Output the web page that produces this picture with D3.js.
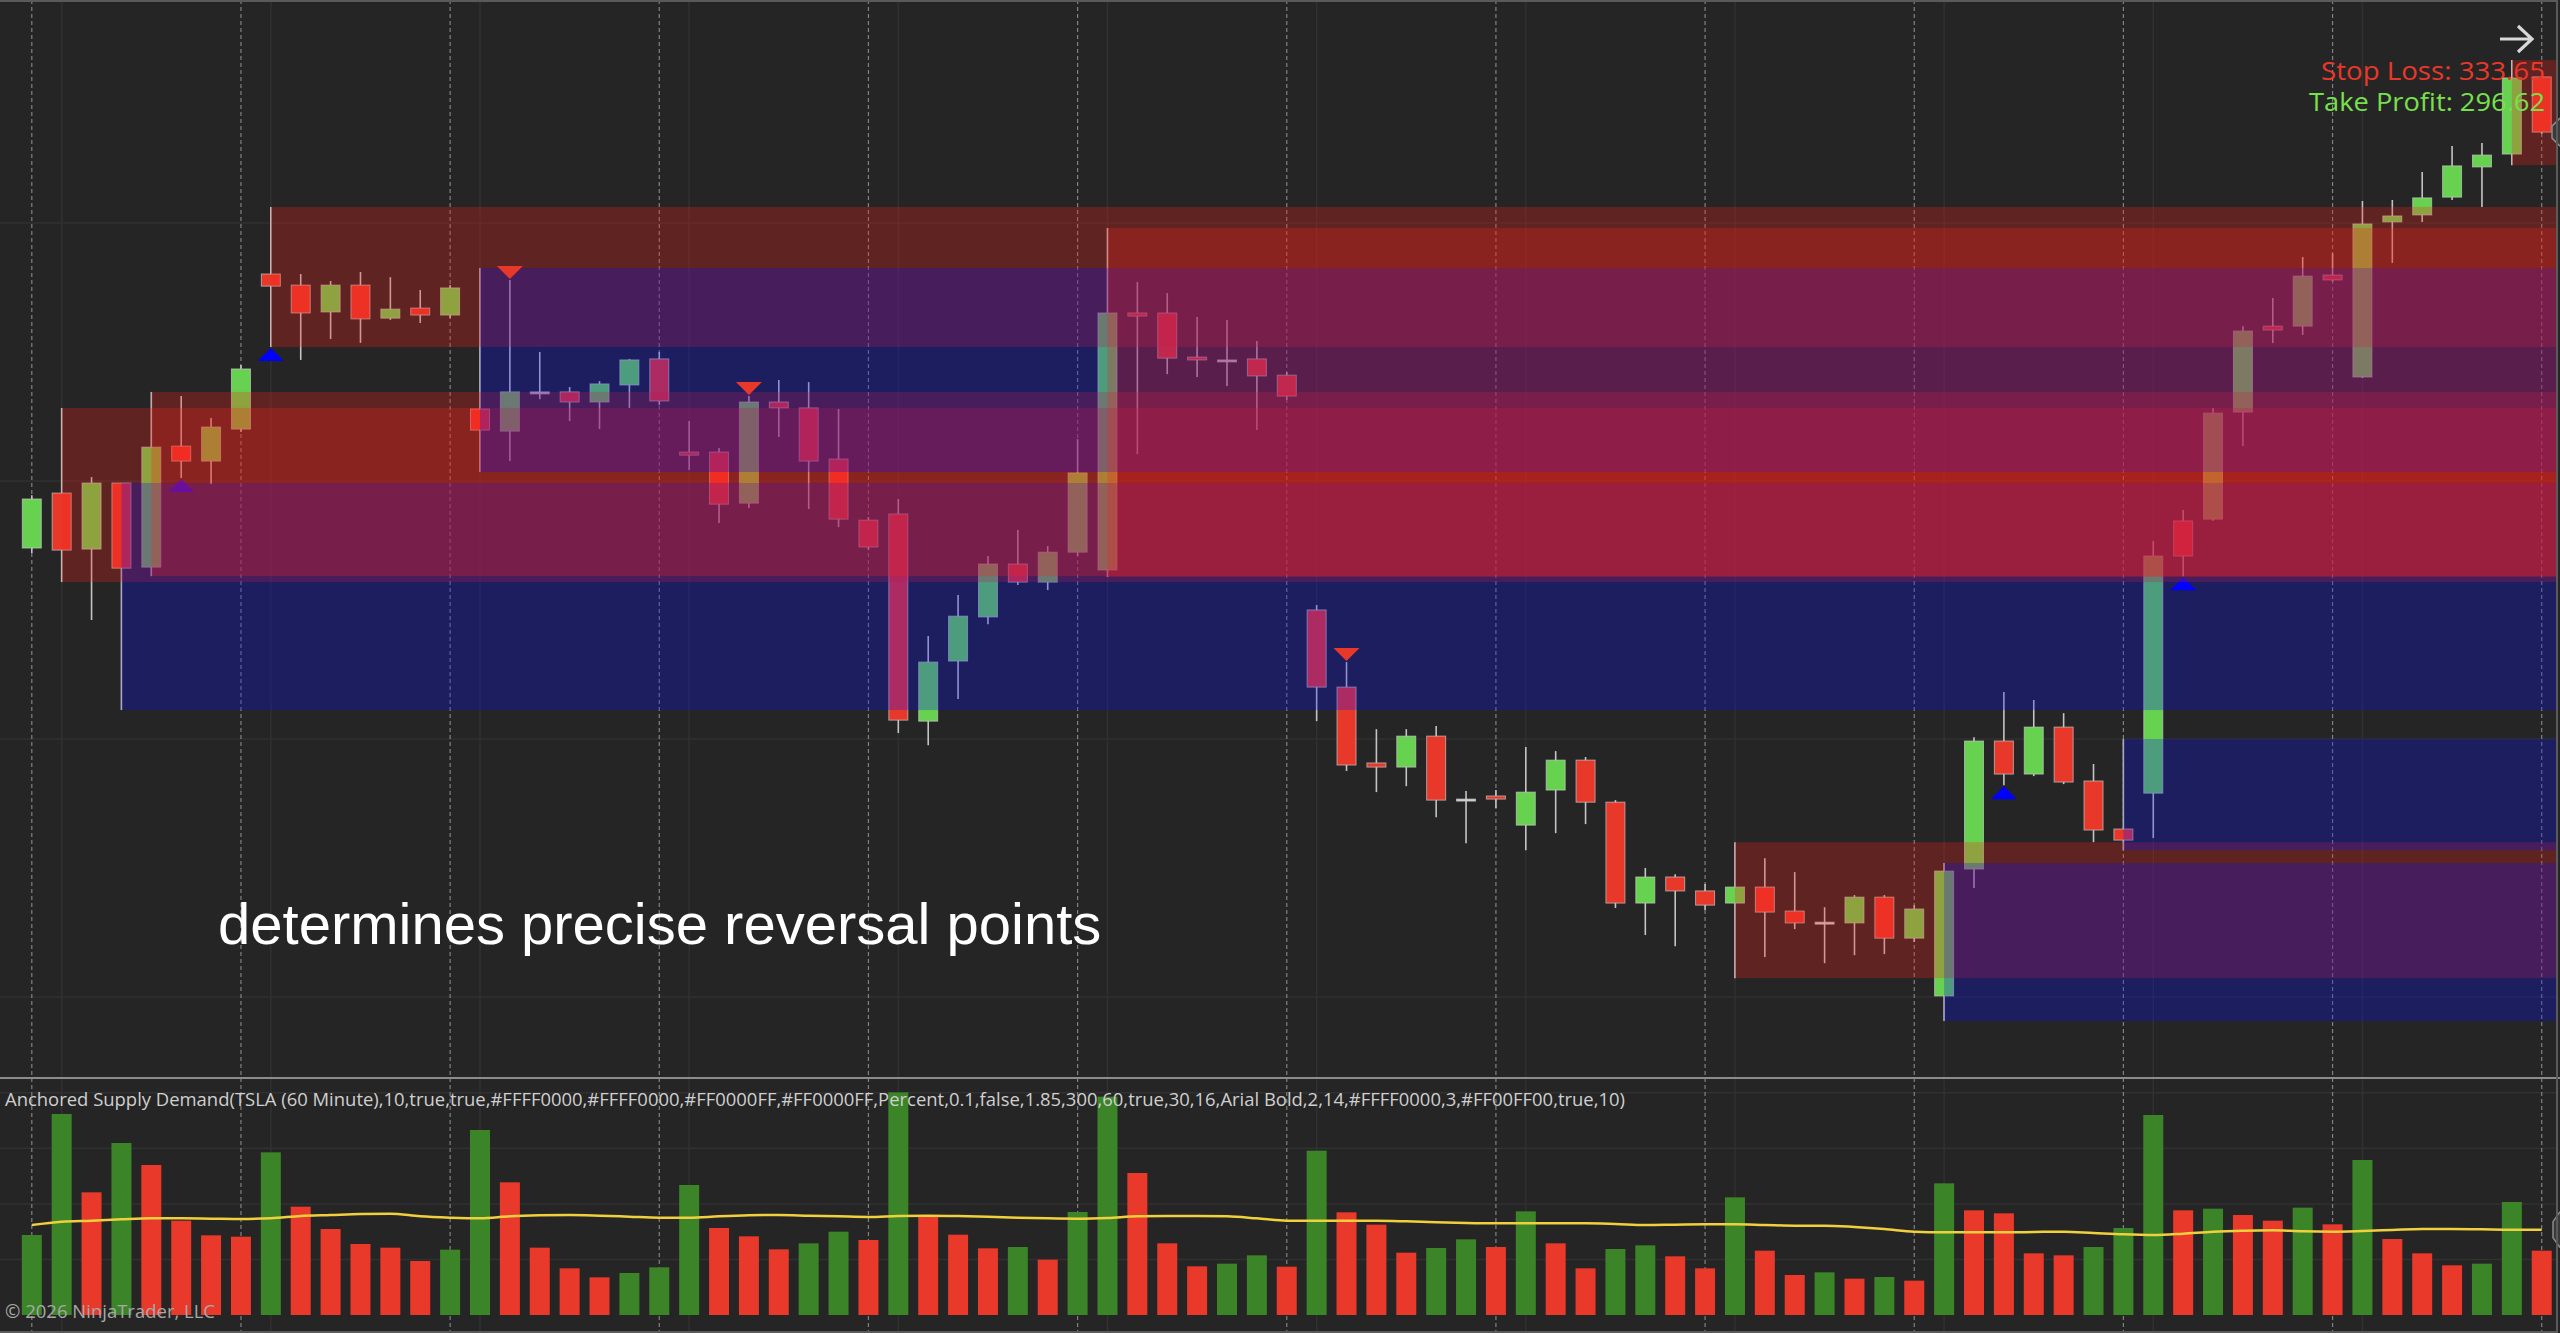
<!DOCTYPE html>
<html>
<head>
<meta charset="utf-8">
<script src="https://cdn.jsdelivr.net/npm/d3@7/dist/d3.min.js"></script>
<style>
  html, body { margin: 0; padding: 0; background: #252525; overflow: hidden; }
  svg { display: block; }
</style>
</head>
<body>
<div id="chart"></div>
<script>
var width = 2560;
var height = 1333;
var priceBottom = 1078;
var volBase = 1315;
var plotRight = 2556;

// TSLA 60 minute bars
var open = [317.40,319.53,317.36,319.92,316.66,321.35,320.77,322.01,328.02,327.59,
  326.55,327.59,326.31,326.70,326.43,322.79,321.93,323.45,323.45,323.06,
  323.72,324.73,321.12,321.12,319.14,323.06,322.83,320.85,318.48,318.72,
  310.69,313.02,314.73,316.78,316.08,317.24,316.55,326.51,326.51,324.80,
  324.69,324.73,324.10,315.00,312.01,309.07,308.91,310.11,307.67,307.79,
  306.66,308.02,309.18,307.55,303.64,304.65,304.11,303.64,304.26,303.33,
  302.90,302.87,303.87,302.28,300.04,304.96,309.92,308.64,310.46,308.37,
  306.51,307.90,318.45,318.52,322.67,326.00,326.00,327.98,324.03,330.04,
  330.31,331.00,332.17,332.67,335.66];
var high = [319.45,322.83,320.15,319.92,323.45,323.29,322.44,324.49,330.62,328.02,
  327.75,328.10,327.90,327.40,327.59,328.25,327.79,325.00,323.64,323.87,
  324.73,325.00,322.32,321.28,323.29,323.91,323.83,322.79,318.60,319.30,
  313.99,315.58,317.09,318.10,317.48,321.62,329.80,327.71,327.28,326.35,
  326.24,325.42,324.22,315.19,312.98,310.38,310.38,310.50,307.98,308.02,
  309.69,309.53,309.30,307.63,305.00,304.76,304.38,306.00,305.38,304.84,
  303.48,303.95,303.95,303.56,305.19,310.07,311.82,311.51,311.00,309.03,
  310.00,317.67,318.87,322.83,326.00,327.09,328.68,328.83,330.85,330.89,
  331.97,332.98,333.10,336.31,335.73];
var low = [317.21,316.08,314.61,311.12,316.31,320.11,319.88,321.90,325.19,324.69,
  325.50,325.35,326.24,326.12,326.31,320.35,320.77,323.17,322.32,322.01,
  322.83,322.94,320.42,318.37,318.95,321.70,318.91,318.21,317.32,310.23,
  309.76,311.55,314.45,315.97,315.77,317.09,316.28,321.04,324.14,324.03,
  323.68,321.97,323.14,310.69,308.76,307.94,308.17,306.97,305.96,307.32,
  305.69,306.35,306.70,303.45,302.40,301.97,303.37,300.73,301.55,302.63,
  301.31,301.62,301.66,302.13,299.07,304.22,308.21,308.56,308.25,306.00,
  305.69,306.16,316.31,318.45,321.35,325.35,325.66,327.71,323.99,328.45,
  330.04,330.89,330.62,332.24,333.45];
var close = [319.30,317.32,319.92,316.62,321.31,320.77,322.09,324.34,327.55,326.51,
  327.59,326.28,326.66,326.43,327.48,321.97,323.45,323.45,323.06,323.76,
  324.69,323.10,321.00,319.10,323.06,322.83,320.77,318.52,317.44,310.73,
  312.98,314.76,316.78,316.08,317.24,320.31,326.51,326.39,324.76,324.69,
  324.69,324.07,323.29,312.01,308.99,308.91,310.11,307.63,307.67,307.67,
  307.94,309.18,307.55,303.64,304.65,304.11,303.56,304.26,303.29,302.87,
  302.90,303.87,302.28,303.41,304.88,309.92,308.64,310.46,308.33,306.47,
  306.08,317.09,317.09,322.63,325.81,325.85,327.94,327.79,329.96,330.27,
  330.97,332.21,332.63,335.62,333.52];

// volume in thousands, 1 = up volume bar
var volume = [720,1809,1104,1548,1350,849,717,705,1464,975,
  774,639,606,486,588,1665,1194,606,420,339,
  378,429,1170,783,708,591,645,750,675,2004,
  888,723,600,612,498,927,1965,1278,645,438,
  462,537,435,1479,924,813,561,603,681,612,
  933,645,420,594,627,528,420,1059,579,360,
  384,327,342,309,1185,942,915,555,537,612,
  783,1800,942,957,900,849,966,816,1395,684,
  555,447,462,1017,579];
var volumeUp = [1,1,0,1,0,0,0,0,1,0,
  0,0,0,0,1,1,0,0,0,0,
  1,1,1,0,0,0,1,1,0,1,
  0,0,0,1,0,1,1,0,0,0,
  1,1,0,1,0,0,0,1,1,0,
  1,0,0,1,1,0,0,1,0,0,
  1,0,1,0,1,0,0,0,0,1,
  1,1,0,1,0,0,1,0,1,0,
  0,0,1,1,0];
var volumeAvg = [810,840,849,861,870,870,867,864,870,891,
  900,909,912,888,876,870,888,897,900,894,
  885,876,876,888,897,900,894,888,882,891,
  894,891,885,876,870,867,873,888,891,891,
  888,870,849,849,849,849,843,834,828,825,
  825,825,825,819,810,813,816,816,810,804,
  804,792,774,750,744,744,744,747,750,738,
  726,720,732,750,759,762,753,750,756,765,
  774,774,771,768,768];

// signals and anchored zones (bar index)
var buySignals = [5, 8, 66, 72];
var sellSignals = [16, 24, 44];
var zoneBars = [1, 3, 4, 8, 15, 36, 57, 64, 70, 83];
var zoneKinds = ['supply', 'demand', 'supply', 'supply', 'demand', 'supply', 'supply', 'demand', 'demand', 'supply'];

var priceTicks = [300, 310, 320, 330];
var volumeTicks = [500, 1000, 1500, 2000];
var stopLoss = 333.65;
var takeProfit = 296.62;

var upColor = '#67d24f';
var downColor = '#e8382a';

var svg = d3.select('#chart').append('svg')
  .attr('width', width).attr('height', height)
  .style('background', '#252525');

var bars = d3.range(open.length);

var x = d3.scaleLinear().domain([0, open.length - 1]).range([31.8, 31.8 + 29.88 * (open.length - 1)]);
var y = d3.scaleLinear().domain([296.86, 338.64]).range([priceBottom, 0]);
var vy = d3.scaleLinear().domain([0, 2100]).range([volBase, volBase - 2100 / 9]);

// grid
var grid = svg.append('g');
grid.selectAll('line.hp').data(priceTicks).enter().append('line')
  .attr('x1', 0).attr('x2', plotRight)
  .attr('y1', function(d){ return y(d); })
  .attr('y2', function(d){ return y(d); })
  .attr('stroke', '#313131').attr('stroke-width', 1.5);
grid.selectAll('line.hv').data(volumeTicks).enter().append('line')
  .attr('x1', 0).attr('x2', plotRight)
  .attr('y1', function(d){ return vy(d); })
  .attr('y2', function(d){ return vy(d); })
  .attr('stroke', '#313131').attr('stroke-width', 1.5);
grid.selectAll('line.vt').data(bars.filter(function(i){ return i % 7 === 1; })).enter().append('line')
  .attr('x1', function(d){ return x(d); }).attr('x2', function(d){ return x(d); })
  .attr('y1', 0).attr('y2', height)
  .attr('stroke', '#313131').attr('stroke-width', 1.5);
grid.selectAll('line.vs').data(bars.filter(function(i){ return i % 7 === 0; })).enter().append('line')
  .attr('x1', function(d){ return x(d); }).attr('x2', function(d){ return x(d); })
  .attr('y1', 0).attr('y2', height)
  .attr('stroke', '#a0a0a0').attr('stroke-width', 1.2)
  .attr('stroke-dasharray', '4,3').attr('opacity', 0.75);

// candles
var candles = svg.append('g');
candles.selectAll('line.wick').data(bars).enter().append('line')
  .attr('x1', function(i){ return x(i); })
  .attr('x2', function(i){ return x(i); })
  .attr('y1', function(i){ return y(high[i]); })
  .attr('y2', function(i){ return y(low[i]); })
  .attr('stroke', '#c4c4c4').attr('stroke-width', 1.6);
candles.selectAll('rect.body').data(bars).enter().append('rect')
  .attr('x', function(i){ return x(i) - 9.5; })
  .attr('width', 19)
  .attr('y', function(i){ return y(Math.max(open[i], close[i])); })
  .attr('height', function(i){ return Math.max(2, Math.abs(y(open[i]) - y(close[i]))); })
  .attr('fill', function(i){
    if (close[i] > open[i]) return upColor;
    if (close[i] < open[i]) return downColor;
    return '#d0d0d0';
  })
  .attr('stroke', '#c8c8c8').attr('stroke-width', 1).attr('stroke-opacity', 0.7);

// buy triangles sit under the zones
svg.selectAll('path.buy').data(buySignals).enter().append('path')
  .attr('d', function(i){
    var cx = x(i), apex = y(low[i]) + 1;
    return 'M' + (cx - 13) + ',' + (apex + 13) + ' L' + cx + ',' + apex + ' L' + (cx + 13) + ',' + (apex + 13) + ' Z';
  })
  .attr('fill', '#0000ff');

// zones, anchored at bar high/low and running to the right edge
svg.append('g').selectAll('rect').data(zoneBars).enter().append('rect')
  .attr('x', function(i){ return x(i); })
  .attr('width', function(i){ return plotRight - x(i); })
  .attr('y', function(i){ return y(high[i]); })
  .attr('height', function(i){ return y(low[i]) - y(high[i]); })
  .attr('fill', function(i, k){ return zoneKinds[k] === 'supply' ? 'rgb(250,32,25)' : 'rgb(6,10,250)'; })
  .attr('fill-opacity', 0.27);

svg.selectAll('path.sell').data(sellSignals).enter().append('path')
  .attr('d', function(i){
    var cx = x(i), apex = y(high[i]) - 1;
    return 'M' + (cx - 13) + ',' + (apex - 13) + ' L' + cx + ',' + apex + ' L' + (cx + 13) + ',' + (apex - 13) + ' Z';
  })
  .attr('fill', '#e8382a');

// caption
svg.append('text')
  .attr('x', 218).attr('y', 944)
  .attr('font-family', '"Liberation Sans", Arial, sans-serif')
  .attr('font-size', 58)
  .attr('fill', '#ffffff')
  .text('determines precise reversal points');

// stop / target labels
svg.append('text')
  .attr('x', 2545).attr('y', 80)
  .attr('text-anchor', 'end')
  .attr('font-family', '"Open Sans", "Noto Sans", sans-serif')
  .attr('font-size', 26)
  .attr('textLength', 224).attr('lengthAdjust', 'spacingAndGlyphs')
  .attr('fill', '#e8382a')
  .text('Stop Loss: ' + stopLoss.toFixed(2));
svg.append('text')
  .attr('x', 2545).attr('y', 111)
  .attr('text-anchor', 'end')
  .attr('font-family', '"Open Sans", "Noto Sans", sans-serif')
  .attr('font-size', 26)
  .attr('textLength', 236).attr('lengthAdjust', 'spacingAndGlyphs')
  .attr('fill', '#78e04c')
  .text('Take Profit: ' + takeProfit.toFixed(2));

svg.append('path')
  .attr('d', 'M2500,39 L2532,39 M2518,26 L2532,39 L2518,52')
  .attr('fill', 'none').attr('stroke', '#d8d8d8').attr('stroke-width', 3.2);

// last price tag
var lastY = y(close[close.length - 1]);
svg.append('path')
  .attr('d', 'M2560,' + (lastY - 14) + ' L2552,' + (lastY - 6) + ' L2552,' + (lastY + 6) + ' L2560,' + (lastY + 14))
  .attr('fill', '#3a3a3a').attr('stroke', '#8a8a8a').attr('stroke-width', 1.5);

// volume panel
svg.append('line')
  .attr('x1', 0).attr('x2', width).attr('y1', priceBottom).attr('y2', priceBottom)
  .attr('stroke', '#8c8c8c').attr('stroke-width', 2);

svg.append('g').selectAll('rect').data(bars).enter().append('rect')
  .attr('x', function(i){ return x(i) - 10; })
  .attr('width', 20)
  .attr('y', function(i){ return vy(volume[i]); })
  .attr('height', function(i){ return volBase - vy(volume[i]); })
  .attr('fill', function(i){ return volumeUp[i] ? '#3b8427' : '#e8392b'; });

var avgLine = d3.line()
  .x(function(i){ return x(i); })
  .y(function(i){ return vy(volumeAvg[i]); })
  .curve(d3.curveMonotoneX);
svg.append('path')
  .attr('d', avgLine(bars))
  .attr('fill', 'none').attr('stroke', '#f0d03c').attr('stroke-width', 2.5);

var lastV = vy(volumeAvg[volumeAvg.length - 1]);
svg.append('path')
  .attr('d', 'M2560,' + (lastV - 18) + ' L2553,' + (lastV - 8) + ' L2553,' + (lastV + 8) + ' L2560,' + (lastV + 18))
  .attr('fill', '#3a3a3a').attr('stroke', '#8a8a8a').attr('stroke-width', 1.5);

svg.append('text')
  .attr('x', 5).attr('y', 1106)
  .attr('font-family', '"Open Sans", "Noto Sans", sans-serif')
  .attr('font-size', 18)
  .attr('fill', '#cfcfcf')
  .attr('textLength', 1620).attr('lengthAdjust', 'spacingAndGlyphs')
  .text('Anchored Supply Demand(TSLA (60 Minute),10,true,true,#FFFF0000,#FFFF0000,#FF0000FF,#FF0000FF,Percent,0.1,false,1.85,300,60,true,30,16,Arial Bold,2,14,#FFFF0000,3,#FF00FF00,true,10)');

svg.append('text')
  .attr('x', 5).attr('y', 1318)
  .attr('font-family', '"Open Sans", "Noto Sans", sans-serif')
  .attr('font-size', 18)
  .attr('fill', '#a8a8a8')
  .attr('textLength', 210).attr('lengthAdjust', 'spacingAndGlyphs')
  .text('\u00a9 2026 NinjaTrader, LLC');

// frame
svg.append('path')
  .attr('d', 'M0,1 L' + (plotRight + 1) + ',1 L' + (plotRight + 1) + ',' + (height - 1) + ' L0,' + (height - 1))
  .attr('fill', 'none').attr('stroke', '#5a5a5a').attr('stroke-width', 2);
</script>
</body>
</html>
